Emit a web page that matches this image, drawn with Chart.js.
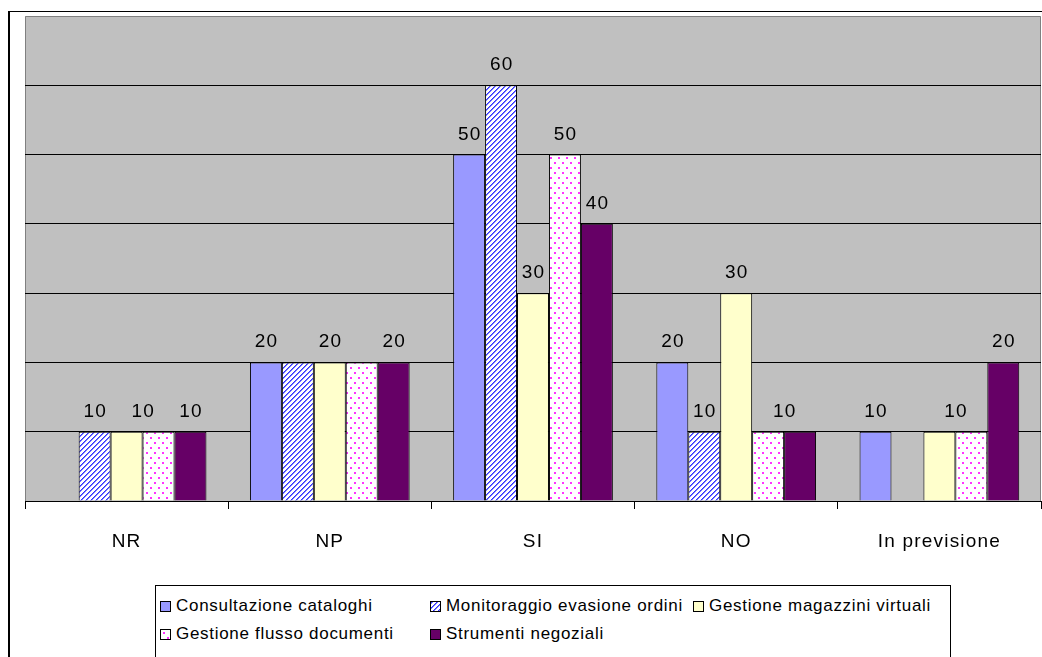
<!DOCTYPE html>
<html>
<head>
<meta charset="utf-8">
<script src="https://cdn.jsdelivr.net/npm/chart.js@4.4.1/dist/chart.umd.min.js"></script>
<style>
  html, body { margin: 0; padding: 0; background: #fff; }
  #wrap { position: relative; width: 1042px; height: 657px; overflow: hidden; font-family: "Liberation Sans", Arial, sans-serif; }
  #frame { position: absolute; left: 8px; top: 11px; width: 1200px; height: 800px; border: 2px solid #000; border-width: 1px 0 0 2px; }
  #chart { position: absolute; left: 0; top: 0; }
  #legend {
    position: absolute; left: 155px; top: 585px; width: 796px; height: 74px;
    border: 1px solid #000; background: #fff; box-sizing: border-box;
    display: grid; grid-template-columns: 270px 263px auto; grid-auto-rows: 28px;
    padding: 6px 0 0 4px; font-size: 17px; letter-spacing: 0.7px; color: #000;
  }
  .item { display: flex; align-items: center; white-space: nowrap; }
  .sw { width: 9px; height: 9px; border: 1px solid #000; margin-right: 5px; flex: none; }
</style>
</head>
<body>
<div id="wrap">
  <div id="frame"></div>
  <canvas id="chart" width="1042" height="657"></canvas>
  <div id="legend"></div>
</div>
<script>
const categories = ['NR', 'NP', 'SI', 'NO', 'In previsione'];
const seriesNames = [
  'Consultazione cataloghi',
  'Monitoraggio evasione ordini',
  'Gestione magazzini virtuali',
  'Gestione flusso documenti',
  'Strumenti negoziali',
];
const consultazione = [0, 20, 50, 20, 10];
const monitoraggio = [10, 20, 60, 10, 0];
const magazzini = [10, 20, 30, 30, 10];
const flusso = [10, 20, 50, 10, 10];
const strumenti = [10, 20, 40, 10, 20];
const yTicks = [0, 10, 20, 30, 40, 50, 60, 70];

// which value labels are printed in the reference
const labelShown = [
  [0, 1, 1, 1, 1],
  [1, 0, 1, 1, 0],
  [0, 1, 1, 1, 0],
  [1, 0, 1, 1, 1],
  [1, 1, 1, 0, 1],
];
// a few labels sit between two bars (in bar widths)
const labelNudge = { '3-0': -0.5, '3-3': 0.5, '3-4': -0.5 };

const FONT = '"Liberation Sans", Arial, sans-serif';

function stripeTile() {
  const c = document.createElement('canvas');
  c.width = c.height = 5;
  const x = c.getContext('2d');
  x.fillStyle = '#fff';
  x.fillRect(0, 0, 5, 5);
  for (let i = 0; i < 5; i++)
    for (let j = 0; j < 5; j++) {
      const k = (i + j) % 5;
      if (k === 0) { x.fillStyle = '#3333ff'; x.fillRect(i, j, 1, 1); }
      if (k === 1) { x.fillStyle = '#7a7aff'; x.fillRect(i, j, 1, 1); }
    }
  return c;
}

function dotTile() {
  const c = document.createElement('canvas');
  c.width = 8; c.height = 10;
  const x = c.getContext('2d');
  x.fillStyle = '#fff';
  x.fillRect(0, 0, 8, 10);
  x.fillStyle = '#ff33ff';
  x.fillRect(2, 2, 2, 2);
  x.fillRect(6, 7, 2, 2);
  return c;
}

const ctx = document.getElementById('chart').getContext('2d');
const stripes = stripeTile();
const dots = dotTile();
const fills = [
  '#9999ff',
  ctx.createPattern(stripes, 'repeat'),
  '#ffffcc',
  ctx.createPattern(dots, 'repeat'),
  '#660066',
];
const swatchCss = [
  'background:#9999ff',
  'background-image:url(' + stripes.toDataURL() + ')',
  'background:#ffffcc',
  'background-image:url(' + dots.toDataURL() + ')',
  'background:#660066',
];
const values = [consultazione, monitoraggio, magazzini, flusso, strumenti];

const plotArea = {
  id: 'plotArea',
  beforeLayout(chart) {
    chart.ctx.letterSpacing = '1.2px';
  },
  beforeDraw(chart) {
    const { ctx, chartArea: a } = chart;
    ctx.letterSpacing = '1.2px';
    ctx.save();
    ctx.fillStyle = '#c0c0c0';
    ctx.fillRect(a.left, a.top, a.right - a.left, a.bottom - a.top);
    ctx.strokeStyle = '#808080';
    ctx.lineWidth = 1;
    ctx.beginPath();
    ctx.moveTo(a.left + 0.5, a.bottom);
    ctx.lineTo(a.left + 0.5, a.top + 0.5);
    ctx.lineTo(a.right - 0.5, a.top + 0.5);
    ctx.lineTo(a.right - 0.5, a.bottom);
    ctx.stroke();
    ctx.restore();
  },
};

const valueLabels = {
  id: 'valueLabels',
  afterDatasetsDraw(chart) {
    const { ctx } = chart;
    ctx.save();
    ctx.font = '19px ' + FONT;
    ctx.fillStyle = '#000';
    ctx.textAlign = 'center';
    ctx.textBaseline = 'alphabetic';
    chart.data.datasets.forEach((ds, i) => {
      chart.getDatasetMeta(i).data.forEach((bar, j) => {
        if (!labelShown[i][j]) return;
        const nudge = labelNudge[i + '-' + j] || 0;
        ctx.fillText(String(ds.data[j]), bar.x + nudge * bar.width + 0.6, bar.y - 15);
      });
    });
    ctx.restore();
  },
};

new Chart(ctx, {
  type: 'bar',
  data: {
    labels: categories,
    datasets: values.map((v, i) => ({
      label: seriesNames[i],
      data: v,
      backgroundColor: fills[i],
      borderColor: '#000',
      borderWidth: (c) => (c.raw ? 1 : 0),
      borderSkipped: 'bottom',
      categoryPercentage: 0.786,
      barPercentage: 1,
    })),
  },
  options: {
    responsive: false,
    animation: false,
    layout: { padding: { left: 25, top: 16, right: 1, bottom: 96 } },
    plugins: { legend: { display: false }, tooltip: { enabled: false } },
    scales: {
      x: {
        afterFit: (s) => { s.height = 60; },
        border: { color: '#000', width: 1 },
        grid: { drawOnChartArea: false, drawTicks: true, tickLength: 8, color: '#000' },
        ticks: { color: '#000', padding: 21, font: { size: 19, family: FONT } },
      },
      y: {
        min: 0,
        max: 70,
        afterFit: (s) => { s.width = 0; },
        afterBuildTicks: (s) => { s.ticks = yTicks.map((v) => ({ value: v })); },
        border: { display: false },
        grid: {
          drawTicks: false,
          color: (c) => (c.tick && c.tick.value === 70 ? 'rgba(0,0,0,0)' : '#000'),
        },
        ticks: { display: false },
      },
    },
  },
  plugins: [plotArea, valueLabels],
});

const legend = document.getElementById('legend');
seriesNames.forEach((name, i) => {
  const item = document.createElement('div');
  item.className = 'item';
  item.innerHTML = '<span class="sw" style="' + swatchCss[i] + '"></span>' + name;
  legend.appendChild(item);
});
</script>
</body>
</html>
